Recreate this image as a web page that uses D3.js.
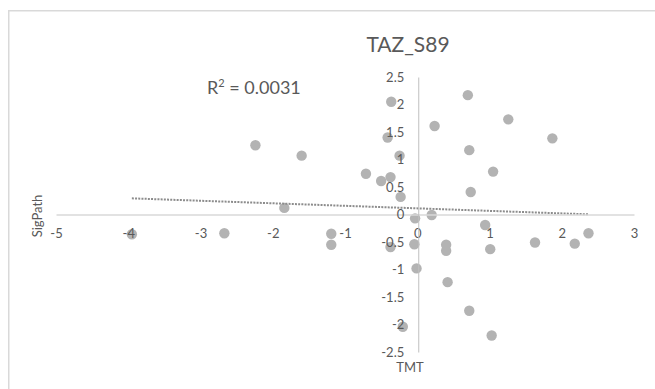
<!DOCTYPE html>
<html>
<head>
<meta charset="utf-8">
<script src="https://cdn.jsdelivr.net/npm/d3@7"></script>
<style>
  html, body { margin: 0; padding: 0; background: #ffffff; }
  svg { display: block; font-family: Lato, "Open Sans", "Liberation Sans", sans-serif; }
</style>
</head>
<body>
<svg id="chart" width="655" height="389"></svg>
<script>
// Scatter of TMT (x) against SigPath (y) with a linear trendline
const chartTitle = "TAZ_S89";
const xAxisTitle = "TMT";
const yAxisTitle = "SigPath";
const rSquaredLabel = "0.0031";

const tmtValues = [
  -3.95, -2.67, -2.24, -1.84, -1.60, -1.19, -1.19, -0.71, -0.50, -0.41,
  -0.37, -0.37, -0.36, -0.245, -0.23, -0.20, -0.04, -0.03, -0.01, 0.20,
  0.24, 0.40, 0.40, 0.42, 0.70, 0.72, 0.72, 0.74, 0.94, 1.01,
  1.03, 1.05, 1.26, 1.63, 1.87, 2.18, 2.37
];
const sigPathValues = [
  -0.36, -0.34, 1.26, 0.12, 1.07, -0.35, -0.55, 0.74, 0.61, 1.40,
  0.68, -0.59, 2.05, 1.07, 0.32, -2.04, -0.54, -0.07, -0.98, -0.01,
  1.61, -0.55, -0.66, -1.23, 2.17, 1.17, -1.75, 0.41, -0.19, -0.63,
  -2.20, 0.78, 1.73, -0.51, 1.385, -0.53, -0.34
];

const xTicks = [-5, -4, -3, -2, -1, 0, 1, 2, 3];
const yTicks = [-2.5, -2, -1.5, -1, -0.5, 0, 0.5, 1, 1.5, 2, 2.5];

const points = tmtValues.map((x, i) => ({ x, y: sigPathValues[i] }));

const svg = d3.select("#chart");
const textColor = "#595959";

// Chart frame
svg.append("rect")
  .attr("x", 8.75).attr("y", 10.75)
  .attr("width", 700).attr("height", 420)
  .attr("fill", "#ffffff")
  .attr("stroke", "#d9d9d9")
  .attr("stroke-width", 1.5);

const x = d3.scaleLinear().domain([-5, 3]).range([56, 634]);
const y = d3.scaleLinear().domain([-2.5, 2.5]).range([352, 77]);

// Points
svg.append("g")
  .selectAll("circle")
  .data(points)
  .join("circle")
  .attr("cx", d => x(d.x))
  .attr("cy", d => y(d.y))
  .attr("r", 5.2)
  .attr("fill", "#b3b3b3");

// Least-squares trendline over the observed x range
const mx = d3.mean(points, d => d.x);
const my = d3.mean(points, d => d.y);
const sxy = d3.sum(points, d => (d.x - mx) * (d.y - my));
const sxx = d3.sum(points, d => (d.x - mx) * (d.x - mx));
const slope = sxy / sxx;
const intercept = my - slope * mx;
const [xMin, xMax] = d3.extent(points, d => d.x);

svg.append("path")
  .datum([xMin, xMax])
  .attr("d", d3.line().x(v => x(v)).y(v => y(intercept + slope * v)))
  .attr("fill", "none")
  .attr("stroke", "#8c8c8c")
  .attr("stroke-width", 2)
  .attr("stroke-dasharray", "2,1.2");

// Axes crossing at the origin
const xAxis = d3.axisBottom(x)
  .tickValues(xTicks)
  .tickFormat(d => String(d))
  .tickSize(0)
  .tickPadding(14);

const yAxis = d3.axisLeft(y)
  .tickValues(yTicks)
  .tickFormat(d => String(d))
  .tickSize(0)
  .tickPadding(14);

const gx = svg.append("g")
  .attr("transform", `translate(0,${y(0)})`)
  .call(xAxis);
gx.select(".domain").attr("stroke", "#d9d9d9").attr("stroke-width", 1.5);

const gy = svg.append("g")
  .attr("transform", `translate(${x(0) + 1},0)`)
  .call(yAxis);
gy.select(".domain").attr("stroke", "#bfbfbf").attr("stroke-width", 1);

svg.selectAll(".tick text")
  .attr("fill", textColor)
  .style("font-size", "13px")
  .style("font-family", "Lato, 'Open Sans', sans-serif");

// Titles
svg.append("text")
  .attr("x", 408).attr("y", 52)
  .attr("text-anchor", "middle")
  .attr("fill", textColor)
  .style("font-size", "21px")
  .text(chartTitle);

svg.append("text")
  .attr("x", 410).attr("y", 372)
  .attr("text-anchor", "middle")
  .attr("fill", textColor)
  .style("font-size", "13px")
  .text(xAxisTitle);

svg.append("text")
  .attr("transform", "translate(42,216) rotate(-90)")
  .attr("text-anchor", "middle")
  .attr("fill", textColor)
  .style("font-size", "13px")
  .text(yAxisTitle);

// R² annotation
const rText = svg.append("text")
  .attr("x", 207).attr("y", 94)
  .attr("fill", textColor)
  .style("font-size", "18px");
rText.append("tspan").text("R");
rText.append("tspan").attr("dy", -7).style("font-size", "11px").text("2");
rText.append("tspan").attr("dy", 7).text(" = " + rSquaredLabel);
</script>
</body>
</html>
